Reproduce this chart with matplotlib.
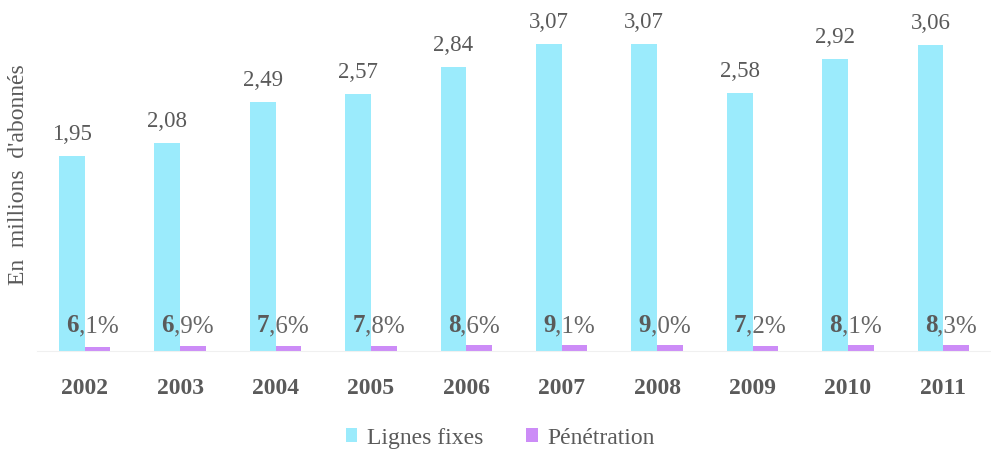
import matplotlib.pyplot as plt
import numpy as np

years = ['2002', '2003', '2004', '2005', '2006', '2007', '2008', '2009', '2010', '2011']
lignes_fixes = [1.95, 2.08, 2.49, 2.57, 2.84, 3.07, 3.07, 2.58, 2.92, 3.06]
penetration = [6.1, 6.9, 7.6, 7.8, 8.6, 9.1, 9.0, 7.2, 8.1, 8.3]

blue = '#9BEBFC'
purple = '#CC8CF7'
grey = '#5a5a5a'
serif = ['Liberation Serif', 'DejaVu Serif']

fig = plt.figure(figsize=(9.91, 4.56), dpi=100)
ax = fig.add_axes([37/991, 1 - 352/456, 954/991, 350/456])

x = np.arange(len(years))
w = 0.27
ax.bar(x - w/2, lignes_fixes, w, color=blue, label='Lignes fixes')
ax.bar(x + w/2, np.array(penetration) / 100 * 0.7, w, color=purple, label='Pénétration')

for i, v in enumerate(lignes_fixes):
    ax.text(x[i] - w/2, v + 0.12, f'{v:.2f}'.replace('.', ','), ha='center', va='bottom',
            family=serif, fontsize=16.5, color=grey)

for i, p in enumerate(penetration):
    s = f'{p:.1f}'.replace('.', ',')
    t = ax.text(x[i] + w/2 - 0.33, 0.2, s[0], ha='left', va='baseline',
                family=serif, fontsize=18, fontweight='bold', color=grey)
    ax.annotate(s[1:] + '%', xy=(1, 0), xycoords=t, va='bottom', ha='left',
                family=serif, fontsize=18, color='#666666')

ax.set_xlim(-0.5, len(years) - 0.5)
ax.set_ylim(0, 3.5)
ax.set_xticks(x)
ax.set_xticklabels(years, family=serif, fontsize=17, fontweight='semibold', color=grey)
ax.tick_params(axis='x', length=0, pad=19)
ax.set_yticks([])
for s in ['top', 'right', 'left']:
    ax.spines[s].set_visible(False)
ax.spines['bottom'].set_color('#f0f0f0')

fig.text(19/991, 1 - 175/456, "En  millions  d'abonnés", rotation=90, ha='center', va='center',
         family=serif, fontsize=17, color=grey)

fig.legend(loc='center', bbox_to_anchor=(500/991, 1 - 439/456), ncol=2, frameon=False,
           prop={'family': serif, 'size': 17}, handlelength=0.5, handleheight=0.5,
           handletextpad=0.4, columnspacing=1.8, labelcolor=grey)

fig.savefig('out.png', dpi=100)
